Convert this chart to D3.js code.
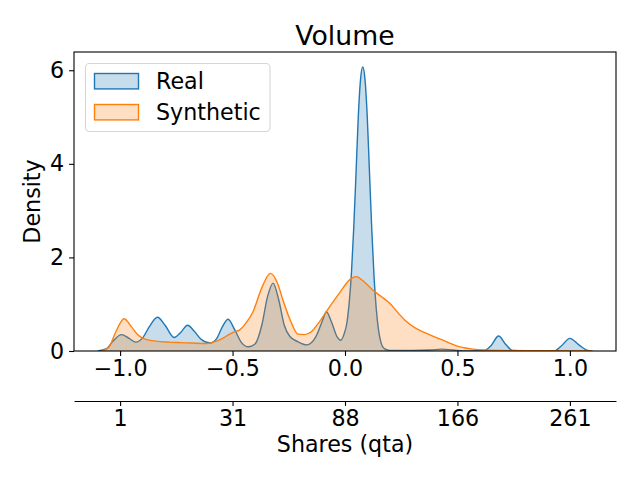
<!DOCTYPE html>
<html>
<head>
<meta charset="utf-8">
<script src="https://cdn.jsdelivr.net/npm/d3@7"></script>
<style>
  body { margin: 0; background: #fff; }
  svg { font-family: "DejaVu Sans", sans-serif; }
</style>
</head>
<body>
<svg width="640" height="480">
  <g id="chart"></g>
  <g id="xaxis"></g>
  <g id="x2axis"></g>
  <g id="yaxis"></g>
  <g id="legend"></g>
</svg>
<script>
const seriesNames = ['Real', 'Synthetic']
const realX = [-1.10, -1.06, -1.03, -0.994, -0.96, -0.93, -0.90, -0.87, -0.834, -0.80, -0.76, -0.73, -0.70, -0.67, -0.64, -0.60, -0.57, -0.545, -0.52, -0.49, -0.46, -0.43, -0.40, -0.37, -0.345, -0.32, -0.295, -0.27, -0.245, -0.21, -0.17, -0.13, -0.10, -0.083, -0.06, -0.035, -0.019, -0.005, 0.009, 0.019, 0.029, 0.039, 0.049, 0.059, 0.069, 0.079, 0.089, 0.099, 0.109, 0.119, 0.129, 0.139, 0.149, 0.159, 0.175, 0.20, 0.30, 0.38, 0.43, 0.48, 0.55, 0.62, 0.65, 0.683, 0.715, 0.745, 0.80, 0.93, 0.96, 1.0, 1.04, 1.08, 1.10]
const realY = [0, 0.05, 0.22, 0.35, 0.27, 0.19, 0.28, 0.52, 0.72, 0.55, 0.29, 0.40, 0.55, 0.42, 0.25, 0.17, 0.27, 0.52, 0.68, 0.45, 0.18, 0.09, 0.15, 0.55, 1.15, 1.45, 1.10, 0.55, 0.31, 0.20, 0.13, 0.30, 0.65, 0.84, 0.62, 0.30, 0.23, 0.35, 0.62, 1.05, 1.7, 2.65, 3.8, 5.0, 5.8, 6.07, 5.8, 5.0, 3.8, 2.6, 1.6, 0.9, 0.45, 0.2, 0.05, 0.01, 0.01, 0.02, 0.04, 0.02, 0, 0.01, 0.12, 0.32, 0.14, 0.01, 0, 0, 0.10, 0.27, 0.13, 0.01, 0]
const synthX = [-1.08, -1.05, -1.02, -0.982, -0.95, -0.92, -0.898, -0.84, -0.78, -0.735, -0.68, -0.616, -0.572, -0.53, -0.498, -0.468, -0.44, -0.409, -0.37, -0.332, -0.30, -0.276, -0.24, -0.209, -0.18, -0.15, -0.11, -0.068, -0.02, 0.02, 0.051, 0.08, 0.124, 0.16, 0.199, 0.235, 0.273, 0.31, 0.347, 0.385, 0.421, 0.46, 0.495, 0.53, 0.569, 0.62, 0.70, 0.85, 1.0, 1.10]
const synthY = [0, 0.08, 0.40, 0.69, 0.52, 0.34, 0.27, 0.21, 0.19, 0.18, 0.17, 0.16, 0.21, 0.31, 0.40, 0.45, 0.60, 0.84, 1.35, 1.66, 1.45, 1.09, 0.62, 0.36, 0.35, 0.41, 0.65, 0.95, 1.27, 1.52, 1.59, 1.50, 1.30, 1.17, 1.02, 0.82, 0.63, 0.50, 0.41, 0.33, 0.26, 0.18, 0.11, 0.07, 0.04, 0.02, 0.01, 0.005, 0.003, 0]
const xTicks = [-1, -0.5, 0, 0.5, 1]
const xTickLabels = ['\u22121.0', '\u22120.5', '0.0', '0.5', '1.0']
const shareLabels = ['1', '31', '88', '166', '261']
const yTicks = [0, 2, 4, 6]

const colors = ['#1f77b4', '#ff7f0e']
const axLeft = 74, axRight = 616, axTop = 52, axBottom = 351

xs = d3.scaleLinear().domain([-1.205, 1.205]).range([axLeft, axRight])
ys = d3.scaleLinear().domain([0, 6.39]).range([axBottom, axTop])

function zip(xa, ya) { return xa.map(function(x, i) { return {x: x, y: ya[i]} }) }
const series = [zip(realX, realY), zip(synthX, synthY)]

const area = d3.area().curve(d3.curveMonotoneX)
  .x(function(d) { return xs(d.x) })
  .y0(ys(0))
  .y1(function(d) { return ys(d.y) })
const line = d3.line().curve(d3.curveMonotoneX)
  .x(function(d) { return xs(d.x) })
  .y(function(d) { return ys(d.y) })

const svg = d3.select('svg')
const chart = svg.select('g#chart')

// clip to the axes box
svg.append('defs').append('clipPath').attr('id', 'clip')
  .append('rect').attr('x', axLeft).attr('y', axTop).attr('width', axRight - axLeft).attr('height', axBottom - axTop)

series.forEach(function(s, i) {
  const g = chart.append('g').attr('clip-path', 'url(#clip)')
  g.append('path').datum(s)
    .attr('d', area)
    .attr('fill', colors[i])
    .attr('fill-opacity', 0.25)
  g.append('path').datum(s)
    .attr('d', line)
    .attr('fill', 'none')
    .attr('stroke', colors[i])
    .attr('stroke-width', 1.4)
})

// axes box
chart.append('rect')
  .attr('x', axLeft).attr('y', axTop)
  .attr('width', axRight - axLeft).attr('height', axBottom - axTop)
  .attr('fill', 'none').attr('stroke', '#000').attr('stroke-width', 1.1)

// bottom axis
svg.select('g#xaxis').attr('transform', 'translate(0,' + axBottom + ')')
  .call(d3.axisBottom(xs).tickValues(xTicks).tickSize(4.9).tickPadding(4.3).tickSizeOuter(0)
    .tickFormat(function(d, i) { return xTickLabels[i] }))

// secondary axis with share labels
svg.select('g#x2axis').attr('transform', 'translate(0,401)')
  .call(d3.axisBottom(xs).tickValues(xTicks).tickSize(4.9).tickPadding(4.3).tickSizeOuter(0)
    .tickFormat(function(d, i) { return shareLabels[i] }))

svg.select('g#yaxis').attr('transform', 'translate(' + axLeft + ',0)')
  .call(d3.axisLeft(ys).tickValues(yTicks).tickSize(4.9).tickPadding(4.9).tickSizeOuter(0)
    .tickFormat(d3.format('d')))

svg.selectAll('g#xaxis, g#x2axis, g#yaxis')
  .attr('font-family', '"DejaVu Sans", sans-serif')
  .attr('font-size', 22.2)
svg.selectAll('g#xaxis path.domain, g#yaxis path.domain').remove()
svg.selectAll('g#x2axis path.domain').attr('stroke-width', 1.1)
svg.selectAll('.tick line').attr('stroke-width', 1.1)
svg.selectAll('.tick text').attr('fill', '#000')

// title and labels
svg.append('text').attr('x', (axLeft + axRight) / 2).attr('y', 45)
  .attr('text-anchor', 'middle').attr('font-size', 26.7).text('Volume')
svg.append('text').attr('x', (axLeft + axRight) / 2).attr('y', 452)
  .attr('text-anchor', 'middle').attr('font-size', 22.2).text('Shares (qta)')
svg.append('text')
  .attr('transform', 'translate(39.5,' + (axTop + axBottom) / 2 + ') rotate(-90)')
  .attr('text-anchor', 'middle').attr('font-size', 22.2).text('Density')

// legend
const legend = svg.select('g#legend')
legend.append('rect')
  .attr('x', 85.5).attr('y', 63.5).attr('width', 184.5).attr('height', 68)
  .attr('rx', 4).attr('fill', '#fff').attr('fill-opacity', 0.8)
  .attr('stroke', '#d6d6d6').attr('stroke-width', 1.1)
legend.selectAll('rect.key').data(seriesNames).enter().append('rect')
  .attr('class', 'key')
  .attr('x', 94.5)
  .attr('y', function(d, i) { return 73.5 + i * 31 })
  .attr('width', 44)
  .attr('height', 15.4)
  .attr('fill', function(d, i) { return colors[i] })
  .attr('fill-opacity', 0.25)
  .attr('stroke', function(d, i) { return colors[i] })
  .attr('stroke-width', 1.4)
legend.selectAll('text').data(seriesNames).enter().append('text')
  .attr('x', 156)
  .attr('y', function(d, i) { return 88.5 + i * 31 })
  .attr('font-size', 22.2)
  .text(function(d) { return d })
</script>
</body>
</html>
